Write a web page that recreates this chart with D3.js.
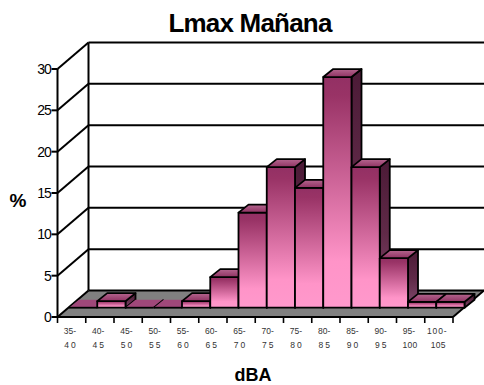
<!DOCTYPE html>
<html>
<head>
<meta charset="utf-8">
<script src="https://cdn.jsdelivr.net/npm/d3@7"></script>
<style>
  html, body { margin: 0; padding: 0; background: #fff; }
  svg { display: block; }
  text { font-family: "Liberation Sans", Arial, sans-serif; fill: #000; }
</style>
</head>
<body>
<svg id="chart" width="484" height="385"></svg>
<script>
// Noise level distribution, percentage of readings per dBA class
const rangeStarts = ["35-", "40-", "45-", "50-", "55-", "60-", "65-", "70-", "75-", "80-", "85-", "90-", "95-", "100-"];
const rangeEnds = ["40", "45", "50", "55", "60", "65", "70", "75", "80", "85", "90", "95", "100", "105"];
const percentages = [0, 0.8, 0, 0, 0.8, 3.7, 11.5, 17, 14.5, 27.9, 17, 6, 0.7, 0.7];
const valueTicks = [0, 5, 10, 15, 20, 25, 30];

const svg = d3.select("#chart");

// Oblique projection: offsets of the back wall, bar row and bar depth
const wall = { dx: 31, dy: -26.5 };
const row = { dx: 11.5, dy: -9.3 };
const depth = { dx: 10, dy: -8 };

const x = d3.scaleBand().domain(d3.range(rangeStarts.length)).range([57.5, 453]);
const y = d3.scaleLinear().domain([0, 30]).range([317, 69]);

const poly = pts => pts.map(p => p.join(",")).join(" ");

// Gradients for the three visible faces of each bar
const defs = svg.append("defs");
function gradient(id, stops) {
  const g = defs.append("linearGradient").attr("id", id)
    .attr("x1", 0).attr("y1", 0).attr("x2", 0).attr("y2", 1);
  stops.forEach(([o, c]) => g.append("stop").attr("offset", o).attr("stop-color", c));
}
gradient("front", [[0, "#933064"], [0.08, "#993366"], [0.8, "#ff94c8"], [1, "#ff99cc"]]);
gradient("side", [[0, "#4b1a36"], [0.5, "#602a48"], [1, "#844c70"]]);
gradient("top", [[0, "#b5668f"], [1, "#8f3262"]]);

const frame = svg.append("g").attr("fill", "none").attr("stroke", "#000").attr("stroke-width", 2);

// Floor
const [x0, x1] = x.range();
const y0 = y(0);
svg.insert("polygon", "g")
  .attr("points", poly([[x0, y0], [x1, y0], [x1 + wall.dx, y0 + wall.dy], [x0 + wall.dx, y0 + wall.dy]]))
  .attr("fill", "#808080");

// Gridlines on the back and left walls
valueTicks.forEach(v => {
  const yy = y(v);
  frame.append("line").attr("x1", x0).attr("y1", yy).attr("x2", x0 + wall.dx).attr("y2", yy + wall.dy);
  frame.append("line").attr("x1", x0 + wall.dx).attr("y1", yy + wall.dy).attr("x2", x1 + wall.dx).attr("y2", yy + wall.dy);
});
frame.append("line").attr("x1", x0).attr("y1", y(30)).attr("x2", x0).attr("y2", y0 + 1);
frame.append("line").attr("x1", x0 + wall.dx).attr("y1", y(30) + wall.dy).attr("x2", x0 + wall.dx).attr("y2", y0 + wall.dy);
frame.append("line").attr("x1", x0 - 1).attr("y1", y0).attr("x2", x1).attr("y2", y0);
frame.append("line").attr("x1", x1).attr("y1", y0).attr("x2", x1 + wall.dx).attr("y2", y0 + wall.dy);

// Bars, painted left to right so each one covers its neighbour's side face
const bars = svg.append("g").attr("stroke", "#000").attr("stroke-width", 1.8).attr("stroke-linejoin", "round");
percentages.forEach((v, i) => {
  const l = x(i) + row.dx, r = l + x.bandwidth();
  const b = y0 + row.dy, t = y(v) + row.dy;
  const g = bars.append("g");
  if (v > 0) {
    g.append("polygon")
      .attr("points", poly([[r, t], [r + depth.dx, t + depth.dy], [r + depth.dx, b + depth.dy], [r, b]]))
      .attr("fill", "url(#side)");
    g.append("polygon")
      .attr("points", poly([[l, b], [r, b], [r, t], [l, t]]))
      .attr("fill", "url(#front)");
    g.append("polygon")
      .attr("points", poly([[l, t], [r, t], [r + depth.dx, t + depth.dy], [l + depth.dx, t + depth.dy]]))
      .attr("fill", "url(#top)");
  } else {
    // An empty class is only a flat patch on the floor with a front edge
    g.append("polygon")
      .attr("points", poly([[l, t], [r, t], [r + depth.dx, t + depth.dy], [l + depth.dx, t + depth.dy]]))
      .attr("fill", "#a0487a").attr("stroke", "none");
    g.append("line").attr("x1", l).attr("y1", t).attr("x2", r).attr("y2", t);
    g.append("line").attr("x1", r).attr("y1", t).attr("x2", r + depth.dx).attr("y2", t + depth.dy);
  }
});

// Value axis
const valueAxis = svg.append("g");
valueTicks.forEach(v => {
  valueAxis.append("line").attr("x1", x0 - 6).attr("x2", x0).attr("y1", y(v)).attr("y2", y(v))
    .attr("stroke", "#000").attr("stroke-width", 2);
  valueAxis.append("text").attr("x", x0 - 7).attr("y", y(v) + 5)
    .attr("text-anchor", "end").attr("font-size", 14).attr("letter-spacing", -1.2).text(v);
});

// Category axis: ticks sit on class boundaries, two-line labels beneath
const catAxis = svg.append("g");
d3.range(rangeStarts.length + 1).forEach(i => {
  const xx = i < rangeStarts.length ? x(i) : x1;
  catAxis.append("line").attr("x1", xx).attr("x2", xx).attr("y1", y0).attr("y2", y0 + 6)
    .attr("stroke", "#000").attr("stroke-width", 1.6);
});
rangeStarts.forEach((s, i) => {
  const cx = x(i) + 12.5;
  catAxis.append("text").attr("x", cx).attr("y", 334).attr("text-anchor", "middle")
    .attr("font-size", 8.5).style("fill", "#333")
    .attr("letter-spacing", s.length > 3 ? 0.9 : 0).text(s);
  catAxis.append("text").attr("x", cx + 1).attr("y", 348).attr("text-anchor", "middle")
    .attr("font-size", 8.5).style("fill", "#333")
    .attr("letter-spacing", rangeEnds[i].length > 2 ? 0.2 : 2).text(rangeEnds[i]);
});

// Titles
svg.append("text").attr("x", 250).attr("y", 32).attr("text-anchor", "middle")
  .attr("font-size", 26).attr("font-weight", "bold").attr("letter-spacing", -0.8).text("Lmax Mañana");
svg.append("text").attr("x", 18).attr("y", 207).attr("text-anchor", "middle")
  .attr("font-size", 19).attr("font-weight", "bold").text("%");
svg.append("text").attr("x", 253).attr("y", 381).attr("text-anchor", "middle")
  .attr("font-size", 18).attr("font-weight", "bold").text("dBA");
</script>
</body>
</html>
